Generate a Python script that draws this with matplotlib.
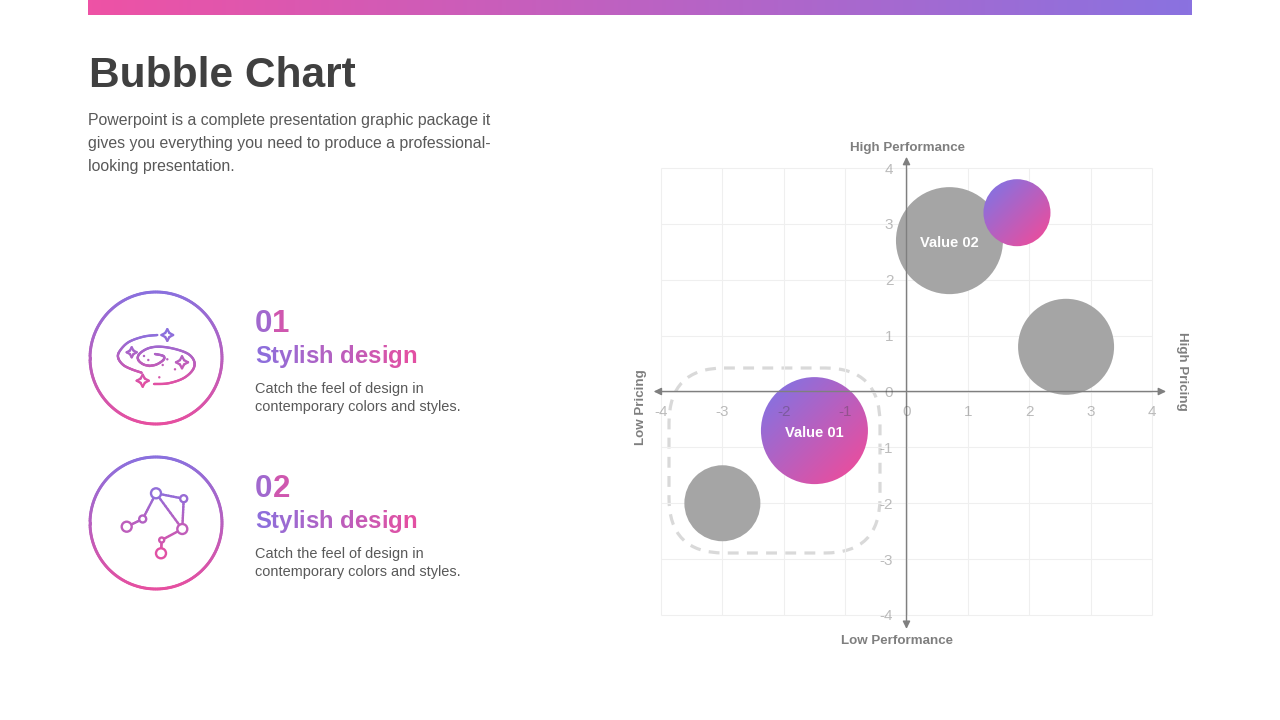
import numpy as np
import matplotlib
matplotlib.use("Agg")
import matplotlib.pyplot as plt
from matplotlib.collections import LineCollection
from matplotlib.colors import LinearSegmentedColormap
from matplotlib.patches import Circle, Ellipse, FancyBboxPatch

plt.rcParams["font.family"] = ["Liberation Sans", "DejaVu Sans"]

# chart values
bubble_x = [0.7, 2.6, -3.0]
bubble_y = [2.7, 0.8, -2.0]
bubble_d = [107, 96, 76]
accent_x = [-1.5, 1.8]
accent_y = [-0.7, 3.2]
accent_d = [107, 67]
value_labels = ["Value 02", "Value 01"]
value_x = [0.7, -1.5]
value_y = [2.66, -0.74]

ticks = [-4, -3, -2, -1, 0, 1, 2, 3, 4]
tick_labels = ["-4", "-3", "-2", "-1", "0", "1", "2", "3", "4"]

title = "Bubble Chart"
intro = ["Powerpoint is a complete presentation graphic package it",
         "gives you everything you need to produce a professional-",
         "looking presentation."]
numbers = ["01", "02"]
headings = ["Stylish design", "Stylish design"]
blurbs = [["Catch the feel of design in", "contemporary colors and styles."],
          ["Catch the feel of design in", "contemporary colors and styles."]]

PURPLE = "#8a70de"
PINK = "#e64fa0"
cmap = LinearSegmentedColormap.from_list("brand", [PURPLE, PINK])
bar_cmap = LinearSegmentedColormap.from_list("bar", ["#ee52a5", "#8a72e0"])

fig = plt.figure(figsize=(12.8, 7.2), dpi=100)
renderer = fig.canvas.get_renderer()

# background axes in slide pixels, for everything that is not the chart
bg = fig.add_axes([0, 0, 1, 1], zorder=0)
bg.set_xlim(0, 1280)
bg.set_ylim(720, 0)
bg.axis("off")


def grad_line(x, y, y0, y1, lw=1.7):
    pts = np.column_stack([x, y])
    segs = np.stack([pts[:-1], pts[1:]], axis=1)
    mid = (np.array(y[:-1]) + np.array(y[1:])) / 2
    lc = LineCollection(segs, colors=cmap(np.clip((mid - y0) / (y1 - y0), 0, 1)),
                        linewidths=lw, capstyle="round")
    bg.add_collection(lc)


def smooth(pts, n=14):
    # catmull-rom through the given points
    p = np.array([pts[0]] + pts + [pts[-1]], dtype=float)
    out = []
    for i in range(1, len(p) - 2):
        for t in np.linspace(0, 1, n):
            out.append(0.5 * (2 * p[i] + (p[i + 1] - p[i - 1]) * t
                              + (2 * p[i - 1] - 5 * p[i] + 4 * p[i + 1] - p[i + 2]) * t ** 2
                              + (3 * p[i] - p[i - 1] - 3 * p[i + 1] + p[i + 2]) * t ** 3))
    out = np.array(out)
    return out[:, 0], out[:, 1]


def star(cx, cy, r, y0, y1):
    ang = np.linspace(0, 2 * np.pi, 9)
    rad = np.where(np.arange(9) % 2 == 0, r, r * 0.5)
    grad_line(cx + rad * np.sin(ang), cy - rad * np.cos(ang), y0, y1, lw=1.7)


def grad_text(x, y, s, size):
    # one real text per letter, coloured left to right
    prop = matplotlib.font_manager.FontProperties(family="Liberation Sans", weight="bold", size=size)

    def width(t):
        return renderer.get_text_width_height_descent(t, prop, False)[0]

    total = width(s)
    for i, ch in enumerate(s):
        if ch == " ":
            continue
        px = width(s[:i + 1]) - width(ch)
        bg.text(x + px, y, ch, fontproperties=prop, va="baseline", ha="left",
                color=cmap((px + width(ch) / 2) / total))


# top bar
bg.imshow(np.linspace(0, 1, 256).reshape(1, -1), cmap=bar_cmap, aspect="auto",
          extent=[88, 1192, 15, 0], zorder=1)
bg.set_xlim(0, 1280)
bg.set_ylim(720, 0)

bg.text(89, 87, title, fontsize=30.6, fontweight="bold", color="#404040", va="baseline")
for i, line in enumerate(intro):
    bg.text(88, 125 + i * 23, line, fontsize=11.42, color="#595959", va="baseline")

# left column
for i, (cy, num, head, blurb) in enumerate(zip([358, 523], numbers, headings, blurbs)):
    a = np.linspace(0, 2 * np.pi, 240)
    grad_line(156 + 66 * np.cos(a), cy + 66 * np.sin(a), cy - 66, cy + 66, lw=2.1)
    grad_text(255, cy - 26, num, 22.5)
    grad_text(255, cy + 5, head, 17.2)
    bg.text(255, cy + 35, blurb[0], fontsize=10.45, color="#595959", va="baseline")
    bg.text(255, cy + 53, blurb[1], fontsize=10.45, color="#595959", va="baseline")

# galaxy icon
grad_line(*smooth([(157.3, 335), (143.3, 336.7), (128.3, 342.3), (119.3, 351.7), (118.3, 358.3),
                   (123.3, 365), (131.7, 369.3), (141.7, 372.7)]), 333, 387)
grad_line(*smooth([(154, 384), (168.3, 383.3), (183.3, 378.3), (192.7, 370), (194.3, 361.7),
                   (188.3, 354), (175, 349), (160, 346.7), (148.3, 348.3), (139.3, 354),
                   (138.3, 360), (145, 365), (155, 365), (163.3, 360), (163.3, 356), (155, 354)]), 333, 387)
for sx, sy, sr in [(167.3, 335, 5.8), (131.7, 352.3, 5), (182, 362.3, 6), (142.7, 380.7, 6)]:
    star(sx, sy, sr, 333, 387)
for dx, dy in [(144, 356), (148.3, 360), (167.3, 359.3), (162.7, 365), (175, 369.3), (159.3, 377.3)]:
    bg.add_patch(Circle((dx, dy), 1.2, color=cmap((dy - 333) / 54), lw=0, zorder=3))

# constellation icon
nodes = [(156, 493.3, 5), (183.7, 498.7, 3.5), (182.3, 529, 5), (142.7, 519, 3.5),
         (126.7, 526.7, 5), (161.7, 540, 2.5), (161, 553.3, 5)]
for a_, b_ in [(0, 1), (0, 2), (1, 2), (0, 3), (3, 4), (2, 5), (5, 6)]:
    grad_line(np.linspace(nodes[a_][0], nodes[b_][0], 12),
              np.linspace(nodes[a_][1], nodes[b_][1], 12), 488, 558)
for nx, ny, nr in nodes:
    bg.add_patch(Circle((nx, ny), nr, fc="white", ec=cmap((ny - 488) / 70), lw=1.7, zorder=3))

# dashed group outline sits under the chart
bg.add_patch(FancyBboxPatch((724, 423), 101, 75, boxstyle="round,pad=55,rounding_size=55",
                            fc="none", ec="#d9d9d9", lw=2.3, ls=(0, (3.4, 2.6)), zorder=2))

# chart axes, grid box is 661..1152 by 168..615 in pixels
ax = fig.add_axes([661 / 1280, 1 - 615 / 720, 491 / 1280, 447 / 720], zorder=1)
ax.patch.set_alpha(0)
ax.set_xlim(-4, 4)
ax.set_ylim(-4, 4)
ax.set_xticks(ticks, tick_labels)
ax.set_yticks(ticks, tick_labels)
ax.spines["left"].set_position("zero")
ax.spines["bottom"].set_position("zero")
for s in ax.spines.values():
    s.set_visible(False)
ax.set_axisbelow(False)
# see-through dark grey, so the labels stay readable over the pink bubble
tick_col = (0.25, 0.25, 0.25, 0.35)
ax.tick_params(axis="x", length=0, pad=9.5, labelsize=11, labelcolor=tick_col)
ax.tick_params(axis="y", length=0, pad=9.5, labelsize=11, labelcolor=tick_col)

ax.vlines(ticks, -4, 4, color="#efefef", lw=0.8, zorder=0.5, clip_on=False)
ax.hlines(ticks, -4, 4, color="#efefef", lw=0.8, zorder=0.5, clip_on=False)

px_x = 491 / 8
px_y = 447 / 8
ax.scatter(bubble_x, bubble_y, s=[(d * 0.72) ** 2 for d in bubble_d], color="#a5a5a5",
           linewidths=0, zorder=1, clip_on=False)

# diagonal fill, top left purple to bottom right pink across the circle itself
g = np.linspace(0, 1, 200)
grad = np.clip(((g[None, :] + g[:, None]) / 2 - 0.15) / 0.7, 0, 1)
for x, y, d in zip(accent_x, accent_y, accent_d):
    w = d / px_x
    h = d / px_y
    im = ax.imshow(grad, cmap=cmap, aspect="auto", origin="upper", zorder=1.2,
                   extent=[x - w * 0.52, x + w * 0.52, y - h * 0.52, y + h * 0.52])
    im.set_clip_path(Ellipse((x, y), w, h, transform=ax.transData))
ax.set_xlim(-4, 4)
ax.set_ylim(-4, 4)

arrow = dict(arrowstyle="-|>,head_length=0.45,head_width=0.22", color="#7f7f7f", lw=1.0,
             shrinkA=0, shrinkB=0)
for tip in [(4.23, 0), (-4.12, 0), (0, 4.2), (0, -4.25)]:
    ax.annotate("", xy=tip, xytext=(0, 0), arrowprops=arrow, zorder=2, annotation_clip=False)

for label, x, y in zip(value_labels, value_x, value_y):
    ax.text(x, y, label, color="white", fontsize=10.5, fontweight="bold",
            ha="center", va="center", zorder=3)

axis_style = dict(fontsize=9.6, fontweight="bold", color="#7f7f7f", ha="center", va="center")
bg.text(907.5, 147.5, "High Performance", **axis_style)
bg.text(897, 640.5, "Low Performance", **axis_style)
bg.text(641, 407, "Low Pricing", rotation=90, **axis_style)
bg.text(1182, 371, "High Pricing", rotation=270, **axis_style)

fig.savefig("out.png", dpi=100)
